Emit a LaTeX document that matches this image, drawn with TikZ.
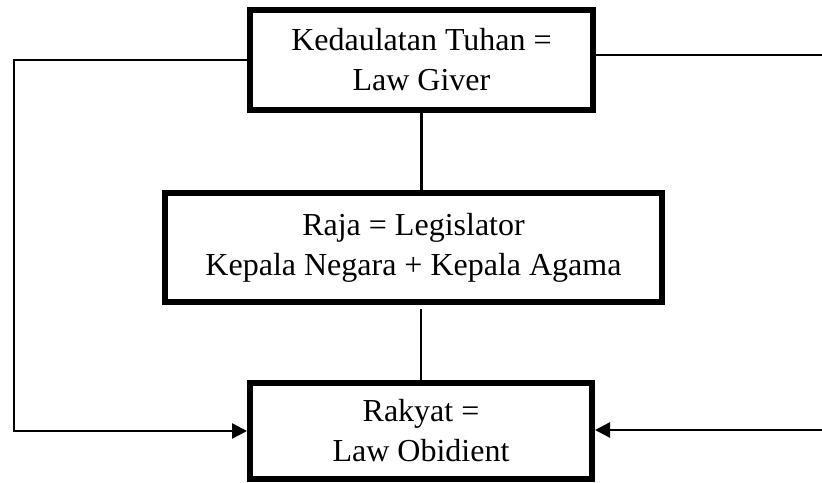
\documentclass[tikz,border=0pt]{standalone}
\usepackage{fontspec}
\setmainfont{Liberation Serif}
\usetikzlibrary{arrows.meta}
\tikzset{
    boxnode/.style={draw, line width=3pt, inner sep=0pt, align=center,
        font=\fontsize{16}{20}\selectfont},
    link/.style={line width=1.2pt},
    linkarrow/.style={line width=1.2pt, -{Triangle[length=7.5pt,width=7.5pt]}}
}
\begin{document}
\begin{tikzpicture}[x=0.5pt, y=-0.5pt]
    \useasboundingbox (0,0) rectangle (822,482);
    % Boxes
    \node[boxnode, minimum width=171.5pt, minimum height=50pt] (tuhan) at (421.5,60) {Kedaulatan Tuhan =\\Law Giver};
    \node[boxnode, minimum width=248.5pt, minimum height=54.5pt] (raja) at (413.5,247.5) {Raja = Legislator\\Kepala Negara + Kepala Agama};
    \node[boxnode, minimum width=171pt, minimum height=48pt] (rakyat) at (421,431) {Rakyat =\\Law Obidient};
    % Free ends
    \coordinate (lcorner) at (14,60);
    \coordinate (rtop) at (822,55);
    \coordinate (rbot) at (822,430);
    % Vertical links
    \draw[link] (tuhan.south) -- (tuhan.south |- raja.north);
    \draw[link, shorten <=2pt] (rakyat.north |- raja.south) -- (rakyat.north);
    % Side links
    \draw[linkarrow] (tuhan.west) -- (lcorner) |- (rakyat.west);
    \draw[link] (tuhan.east |- rtop) -- (rtop);
    \draw[linkarrow] (rbot) -- (rakyat.east |- rbot);
\end{tikzpicture}
\end{document}
